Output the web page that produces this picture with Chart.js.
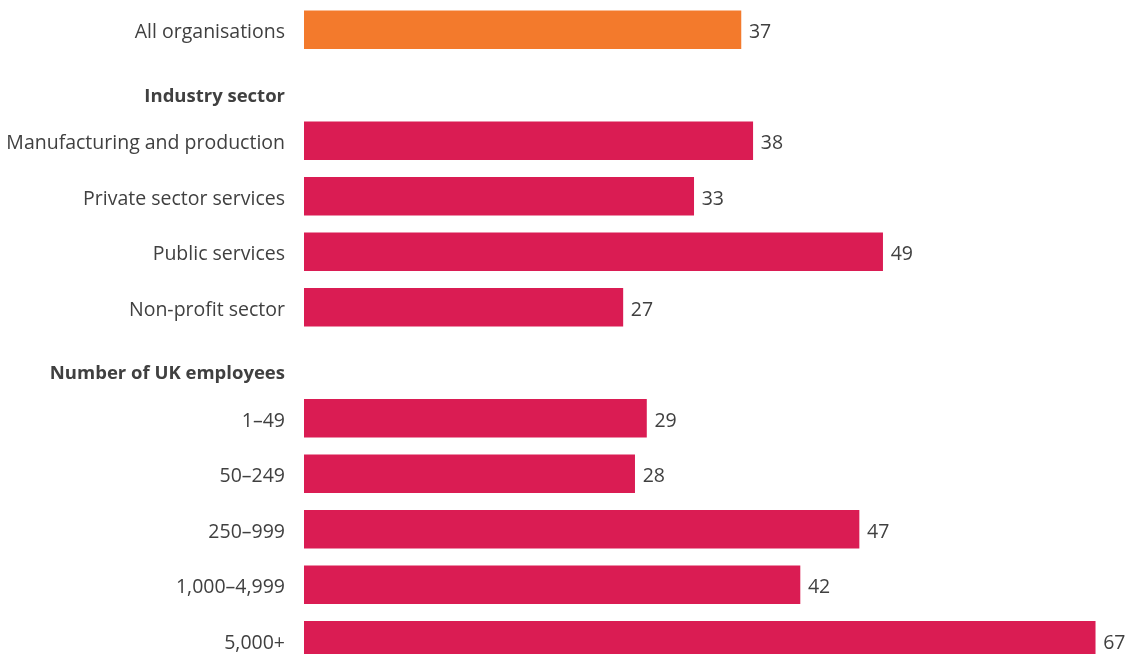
<!DOCTYPE html>
<html>
<head>
<meta charset="utf-8">
<script src="https://cdn.jsdelivr.net/npm/chart.js@4.4.1/dist/chart.umd.min.js"></script>
<style>
  html, body { margin: 0; padding: 0; background: #fff; overflow: hidden; }
  #wrap { position: relative; width: 1127px; height: 668px; }
</style>
</head>
<body>
<div id="wrap"><canvas id="sectorChart"></canvas></div>
<script>
// rows, top to bottom; the two group headings carry no bar
const categories = [
    "All organisations",
    "Industry sector",
    "Manufacturing and production",
    "Private sector services",
    "Public services",
    "Non-profit sector",
    "Number of UK employees",
    "1–49",
    "50–249",
    "250–999",
    "1,000–4,999",
    "5,000+"
];
const values = [37, null, 38, 33, 49, 27, null, 29, 28, 47, 42, 67];
const headings = ["Industry sector", "Number of UK employees"];

const ORANGE = "#f37a2c";
const CRIMSON = "#da1c53";
const TEXT = "#404040";
const FONT = "'Open Sans', 'Noto Sans', sans-serif";

// value labels to the right of each bar
const valueLabels = {
    id: "valueLabels",
    afterDatasetsDraw(chart) {
        const ctx = chart.ctx;
        const meta = chart.getDatasetMeta(0);
        ctx.save();
        ctx.font = "19.5px " + FONT;
        ctx.fillStyle = TEXT;
        ctx.textAlign = "left";
        ctx.textBaseline = "middle";
        meta.data.forEach((bar, i) => {
            if (values[i] == null) return;
            ctx.fillText(values[i], bar.x + 8, bar.y + 3);
        });
        ctx.restore();
    }
};

// bold group headings, sitting a little below their row's centre
const headingLabels = {
    id: "headingLabels",
    afterDraw(chart) {
        const ctx = chart.ctx;
        const y = chart.scales.y;
        ctx.save();
        ctx.font = "bold 18.5px " + FONT;
        ctx.fillStyle = TEXT;
        ctx.textAlign = "right";
        ctx.textBaseline = "middle";
        headings.forEach((h) => {
            const idx = categories.indexOf(h);
            ctx.fillText(h, y.right - 19, y.getPixelForValue(idx) + 11);
        });
        ctx.restore();
    }
};

const ctx1 = document.getElementById("sectorChart").getContext("2d");

new Chart(ctx1, {
    type: "bar",
    data: {
        labels: categories,
        datasets: [{
            data: values,
            backgroundColor: (c) => c.dataIndex === 0 ? ORANGE : CRIMSON,
            barThickness: 38,
            borderWidth: 0
        }]
    },
    options: {
        indexAxis: "y",
        responsive: true,
        maintainAspectRatio: false,
        animation: false,
        layout: { padding: { top: 2, right: 20, bottom: 0, left: 0 } },
        scales: {
            x: {
                display: false,
                min: 0,
                max: 68
            },
            y: {
                grid: { display: false, drawTicks: false },
                border: { display: false },
                afterFit: (scale) => {
                    scale.width = 304;
                    scale.paddingTop = 0;
                    scale.paddingBottom = 0;
                },
                ticks: {
                    padding: 19,
                    labelOffset: 3,
                    color: TEXT,
                    font: { family: FONT, size: 19.5 },
                    callback: function(value) {
                        const label = this.getLabelForValue(value);
                        return headings.includes(label) ? "" : label;
                    }
                }
            }
        },
        plugins: {
            legend: { display: false },
            tooltip: { enabled: false }
        }
    },
    plugins: [valueLabels, headingLabels]
});
</script>
</body>
</html>
